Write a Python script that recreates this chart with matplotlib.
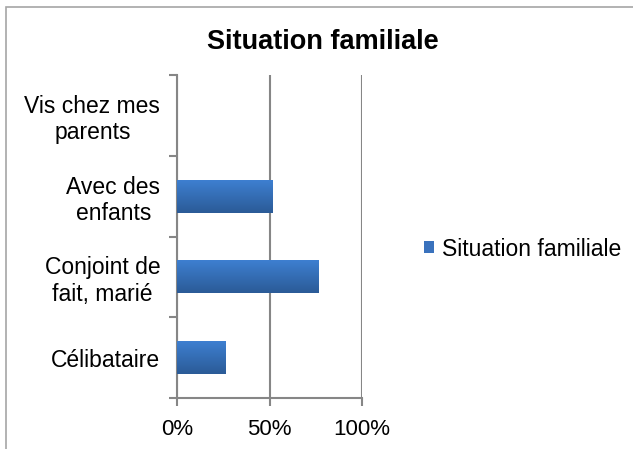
import numpy as np
import matplotlib.pyplot as plt
from matplotlib.patches import Rectangle
from matplotlib.ticker import PercentFormatter

plt.rcParams["font.family"] = ["Liberation Sans", "DejaVu Sans"]

categories = ["Célibataire", "Conjoint de\nfait, marié", "Avec des\nenfants", "Vis chez mes\nparents"]
values = [0.26, 0.765, 0.515, 0.0]
series_name = "Situation familiale"

AXIS_GRAY = "#868686"

fig = plt.figure(figsize=(6.33, 4.49), dpi=100)
ax = fig.add_axes([177 / 633, 1 - 398 / 449, 185 / 633, 323 / 449])

y = np.arange(len(categories))
bars = ax.barh(y, values, height=0.41, color="#3a72bd", zorder=2)

# vertical gradient on each bar, like the Excel default fill
grad = np.linspace(0, 1, 64).reshape(-1, 1)
cmap = plt.matplotlib.colors.LinearSegmentedColormap.from_list("bar", ["#2b5b97", "#3e80d2"])
for b in bars:
    if b.get_width() <= 0:
        continue
    x0, y0 = b.get_x(), b.get_y()
    im = ax.imshow(grad, cmap=cmap, aspect="auto", origin="lower",
                   extent=(x0, x0 + b.get_width(), y0, y0 + b.get_height()), zorder=3)
    im.set_clip_path(b)

ax.set_xlim(0, 1)
ax.set_ylim(-0.5, len(categories) - 0.5)
ax.set_xticks([0, 0.5, 1])
ax.xaxis.set_major_formatter(PercentFormatter(1.0, decimals=0))
ax.set_yticks(y, categories, multialignment="center")
ax.set_yticks(np.arange(-0.5, len(categories)), minor=True)
ax.tick_params(axis="y", which="major", length=0, pad=12, labelsize=16.5)
ax.tick_params(axis="y", which="minor", length=6, width=1.5, color=AXIS_GRAY, direction="out")
ax.tick_params(axis="x", length=6, width=1.5, color=AXIS_GRAY, pad=9, labelsize=16)

ax.grid(axis="x", color=AXIS_GRAY, linewidth=1.5, zorder=0)
ax.set_axisbelow(True)
for s in ("top", "right"):
    ax.spines[s].set_visible(False)
for s in ("left", "bottom"):
    ax.spines[s].set_color(AXIS_GRAY)
    ax.spines[s].set_linewidth(1.5)

fig.suptitle(series_name, x=0.51, y=1 - 42 / 449, va="center", fontsize=19.5, fontweight="bold")

handle = Rectangle((0, 0), 1, 1, facecolor="#3a72bd")
fig.legend([handle], [series_name], loc="center left", bbox_to_anchor=(424 / 633, 1 - 249 / 449),
           frameon=False, fontsize=16.5, handlelength=0.45, handleheight=0.45, handletextpad=0.35,
           borderpad=0, borderaxespad=0)

# chart area border
fig.patches.append(Rectangle((6 / 633, -0.1), 1.2, 1 - 7 / 449 + 0.1, transform=fig.transFigure,
                             fill=False, edgecolor="#a6a6a6", linewidth=1.2))

fig.savefig("out.png", dpi=100)
